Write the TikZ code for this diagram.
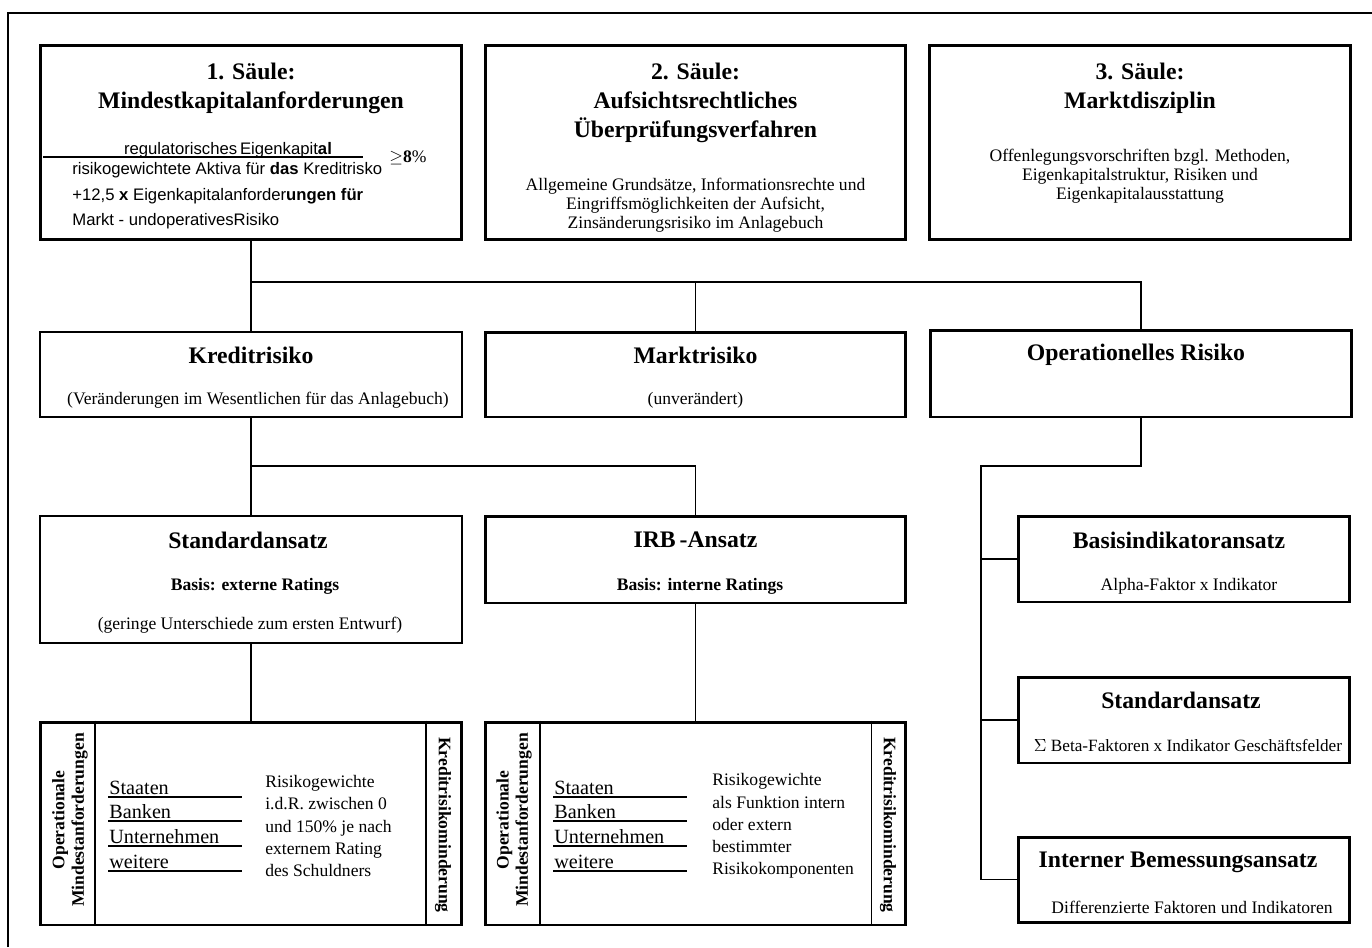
\documentclass[tikz,border=0pt]{standalone}
\usepackage{fontspec}
\setmainfont{Liberation Serif}
\setsansfont{Liberation Sans}
\usepackage{tikz}

\begin{document}
\begin{tikzpicture}[x=0.02cm,y=-0.02cm,
	box/.style={draw,line width=1.7pt,inner sep=0pt},
	lbox/.style={draw,line width=0.9pt,inner sep=0pt},
	ttl/.style={font=\fontsize{13.5}{16.5}\selectfont\bfseries,align=center},
	txt/.style={font=\fontsize{10}{10.8}\selectfont,align=center},
	btxt/.style={font=\fontsize{10}{10.8}\selectfont\bfseries,align=center},
	frm/.style={font=\sffamily\fontsize{9.5}{14.5}\selectfont,align=left,inner sep=0pt},
	lst/.style={font=\fontsize{11.5}{13}\selectfont,inner sep=0pt},
	rtxt/.style={font=\fontsize{10}{12.6}\selectfont,align=left,inner sep=0pt},
	side/.style={font=\fontsize{10}{11}\selectfont\bfseries,align=center},
	sep/.style={line width=1.1pt},
	conn/.style={line width=0.85pt}]
				\useasboundingbox (0,0) rectangle (1372,947);
				\draw [line width=0.6pt] (8,947) -- (8,13) -- (1372,13);
				% Saeulen
				\node [box,minimum width=8.44cm,minimum height=3.9cm] (s1) at (251,142.5) {};
				\node [box,minimum width=8.42cm,minimum height=3.9cm] (s2) at (695.5,142.5) {};
				\node [box,minimum width=8.42cm,minimum height=3.9cm] (s3) at (1140,142.5) {};
				\node [ttl] (t1) at (251,88) {1. Säule:\\Mindestkapitalanforderungen};
				\node [frm] (num) at (228,150) {regulatorisches\,Eigenkapit\textbf{al}};
				\draw [line width=0.8pt] (43,157) -- (363,157);
				\node [font=\fontsize{10}{12}\selectfont] (ge) at (408,158) {$\geq$\textbf{8}\%};
				\node [frm,anchor=west] (den) at (72,196) {risikogewichtete Aktiva für \textbf{das} Kreditrisko\\+12,5 \textbf{x} Eigenkapitalanforder\textbf{ungen für}\\Markt - undoperativesRisiko};
				\node [ttl] (t2) at (695.5,103) {2. Säule:\\Aufsichtsrechtliches\\Überprüfungsverfahren};
				\node [txt] (d2) at (695.5,205) {Allgemeine Grundsätze, Informationsrechte und\\Eingriffsmöglichkeiten der Aufsicht,\\Zinsänderungsrisiko im Anlagebuch};
				\node [ttl] (t3) at (1140,88) {3. Säule:\\Marktdisziplin};
				\node [txt] (d3) at (1140,176) {Offenlegungsvorschriften bzgl. Methoden,\\Eigenkapitalstruktur, Risiken und\\Eigenkapitalausstattung};
				% Risikoarten
				\node [lbox,minimum width=8.44cm,minimum height=1.7cm] (kr) at (251,374.5) {};
				\node [box,minimum width=8.42cm,minimum height=1.7cm] (mr) at (695.5,374.5) {};
				\node [box,minimum width=8.44cm,minimum height=1.74cm] (opr) at (1141,373.5) {};
				\node [ttl] (tkr) at (251,355) {Kreditrisiko};
				\node [txt] (dkr) at (258,400) {(Veränderungen im Wesentlichen für das Anlagebuch)};
				\node [ttl] (tmr) at (695.5,355) {Marktrisiko};
				\node [txt] (dmr) at (695.5,400) {(unverändert)};
				\node [ttl] (topr) at (1136,355) {Operationelles Risiko};
				% Ansaetze Kreditrisiko
				\node [lbox,minimum width=8.44cm,minimum height=2.54cm] (std) at (251,579.5) {};
				\node [box,minimum width=8.42cm,minimum height=1.74cm] (irb) at (695.5,559.5) {};
				\node [ttl] (tstd) at (248,540) {Standardansatz};
				\node [btxt] (bstd) at (255,586) {Basis: externe Ratings};
				\node [txt] (dstd) at (250,625) {(geringe Unterschiede zum ersten Entwurf)};
				\node [ttl] (tirb) at (695.5,540) {IRB\,-Ansatz};
				\node [btxt] (birb) at (700,586) {Basis: interne Ratings};
				% Kaesten unten
				\node [box,minimum width=8.44cm,minimum height=4.06cm] (ka) at (251,823.5) {};
				\node [box,minimum width=8.42cm,minimum height=4.06cm] (kb) at (695.5,823.5) {};
				\draw [sep] ([xshift=1.12cm]ka.north west) -- ([xshift=1.12cm]ka.south west);
				\draw [sep] ([xshift=-0.74cm]ka.north east) -- ([xshift=-0.74cm]ka.south east);
				\draw [sep] ([xshift=1.12cm]kb.north west) -- ([xshift=1.12cm]kb.south west);
				\draw [sep] ([xshift=-0.72cm]kb.north east) -- ([xshift=-0.72cm]kb.south east);
				\node [side,rotate=90] (oma) at (70,820) {Operationale\\Mindestanforderungen};
				\node [side,rotate=-90] (kma) at (443,825) {Kreditrisikominderung};
				\node [side,rotate=90] (omb) at (514,820) {Operationale\\Mindestanforderungen};
				\node [side,rotate=-90] (kmb) at (888,825) {Kreditrisikominderung};
				\foreach \lbl/\yy in {Staaten/797,Banken/821,Unternehmen/846,weitere/871}{
					\node [lst,anchor=base west] (la\lbl) at (109,\yy-3) {\lbl};
					\draw [sep] (108,\yy) -- (242,\yy);
					\node [lst,anchor=base west] (lb\lbl) at (554,\yy-3) {\lbl};
					\draw [sep] (553,\yy) -- (687,\yy);
				}
				\node [rtxt,anchor=west] (rwa) at (265,826) {Risikogewichte\\i.d.R. zwischen 0\\und 150\% je nach\\externem Rating\\des Schuldners};
				\node [rtxt,anchor=west] (rwb) at (712,826) {Risikogewichte\\als Funktion intern\\oder extern\\bestimmter\\Risikokomponenten};
				% Ansaetze operationelles Risiko
				\node [box,minimum width=6.64cm,minimum height=1.72cm] (bia) at (1184,559) {};
				\node [box,minimum width=6.64cm,minimum height=1.72cm] (sa) at (1184,720) {};
				\node [box,minimum width=6.64cm,minimum height=1.7cm] (iba) at (1184,879.5) {};
				\node [ttl] (tbia) at (1179,540) {Basisindikatoransatz};
				\node [txt] (dbia) at (1189,586) {Alpha-Faktor x Indikator};
				\node [ttl] (tsa) at (1181,700) {Standardansatz};
				\node [txt,font=\fontsize{9.8}{10.8}\selectfont] (dsa) at (1188,746) {$\Sigma$ Beta-Faktoren x Indikator Geschäftsfelder};
				\node [ttl] (tiba) at (1178,862) {Interner Bemessungsansatz};
				\node [txt] (diba) at (1192,907) {Differenzierte Faktoren und Indikatoren};
				% Verbindungen
				\coordinate (j1) at (251,282);
				\coordinate (j2) at (251,466);
				\coordinate (j3) at (981,466);
				\draw [conn] (s1.south) -- (kr.north);
				\draw [conn] (j1) -| (mr.north);
				\draw [conn] (j1) -| (opr.north);
				\draw [conn] (kr.south) -- (std.north);
				\draw [conn] (j2) -| (irb.north);
				\draw [conn] (std.south) -- (ka.north);
				\draw [conn] (irb.south) -- (kb.north);
				\draw [conn] (opr.south) |- (j3) |- (iba.west);
				\draw [conn] (j3 |- bia.west) -- (bia.west);
				\draw [conn] (j3 |- sa.west) -- (sa.west);
				\end{tikzpicture}
\end{document}
